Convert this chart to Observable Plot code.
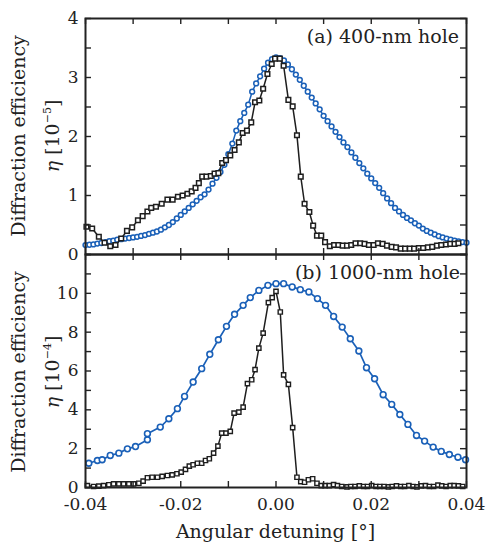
<!DOCTYPE html>
<html><head><meta charset="utf-8">
<script src="https://cdn.jsdelivr.net/npm/d3@7"></script>
<script src="https://cdn.jsdelivr.net/npm/@observablehq/plot@0.6"></script>
<style>
body{margin:0;background:#fff;}
#chart{position:relative;width:487px;height:547px;}
#chart svg{position:absolute;left:0;}
</style></head><body><div id="chart"></div>
<script>
// ---------- data ----------
// (a) 400-nm hole, blue circles: sampled every 1/1200 deg from -0.04
const topBlueStart = -0.04;
const topBlueStep = 1 / 1200;
const topBlueY = [0.16,0.165,0.17,0.185,0.195,0.21,0.225,0.235,0.25,0.26,0.27,0.28,0.29,0.30,0.315,0.33,0.35,0.37,0.39,0.42,
  0.46,0.50,0.55,0.61,0.67,0.73,0.79,0.85,0.91,0.97,1.02,1.10,1.20,1.30,1.40,1.52,1.70,1.88,2.10,2.26,
  2.40,2.54,2.76,2.90,3.02,3.15,3.25,3.31,3.34,3.33,3.29,3.22,3.14,3.05,2.96,2.86,2.76,2.66,2.56,2.46,
  2.35,2.26,2.17,2.08,1.99,1.90,1.82,1.73,1.64,1.55,1.46,1.37,1.29,1.21,1.13,1.04,0.95,0.87,0.79,0.73,
  0.67,0.62,0.58,0.53,0.49,0.44,0.40,0.37,0.34,0.31,0.29,0.27,0.25,0.235,0.22,0.21,0.20];
// (a) 400-nm hole, black squares
const topBlackX = [-0.0398,-0.0386,-0.0372,-0.0360,-0.0348,-0.0337,-0.0325,-0.0313,-0.0302,-0.0290,
  -0.0280,-0.0270,-0.0262,-0.0252,-0.0240,-0.0228,-0.0217,-0.0206,-0.0196,-0.0186,
  -0.0177,-0.0169,-0.0162,-0.0155,-0.0146,-0.0137,-0.0129,-0.0121,-0.0113,-0.0105,
  -0.0096,-0.0087,-0.0078,-0.0070,-0.0061,-0.0052,-0.0044,-0.0035,-0.0027,-0.0018,
  -0.0009,-0.0002,0.0008,0.0016,0.0026,0.0035,0.0044,0.0052,0.0060,0.0070,
  0.0078,0.0086,0.0095,0.0103,0.0113,0.0122,0.0131,0.0140,0.0149,0.0158,
  0.0167,0.0177,0.0186,0.0195,0.0205,0.0214,0.0224,0.0233,0.0243,0.0252,
  0.0262,0.0271,0.0281,0.0290,0.0300,0.0309,0.0319,0.0328,0.0338,0.0347,
  0.0357,0.0366,0.0375,0.0383];
const topBlackY = [0.47,0.44,0.30,0.20,0.14,0.16,0.27,0.40,0.46,0.58,
  0.65,0.73,0.79,0.81,0.86,0.93,0.93,0.98,1.00,1.03,
  1.07,1.13,1.21,1.32,1.32,1.33,1.37,1.38,1.55,1.60,
  1.68,1.77,1.90,2.06,2.10,2.24,2.58,2.61,2.81,3.06,
  3.23,3.32,3.32,3.20,2.62,2.51,2.02,1.32,0.86,0.72,
  0.49,0.32,0.32,0.21,0.14,0.16,0.16,0.15,0.15,0.16,
  0.19,0.19,0.18,0.16,0.16,0.19,0.18,0.15,0.13,0.12,
  0.10,0.10,0.10,0.10,0.11,0.11,0.12,0.13,0.15,0.16,
  0.17,0.18,0.18,0.19];
// (b) 1000-nm hole, blue circles
const botBlueX = [-0.0393,-0.0375,-0.0365,-0.0348,-0.0330,-0.0312,-0.0295,-0.0270,-0.0270,-0.0243,
  -0.0225,-0.0207,-0.0192,-0.0174,-0.0156,-0.0139,-0.0121,-0.0104,-0.0087,-0.0069,
  -0.0054,-0.0036,-0.0017,0.0000,0.0016,0.0034,0.0051,0.0069,0.0087,0.0104,
  0.0121,0.0139,0.0156,0.0174,0.0190,0.0207,0.0225,0.0243,0.0260,0.0277,
  0.0295,0.0312,0.0330,0.0347,0.0364,0.0382,0.0398];
const botBlueY = [1.25,1.39,1.43,1.65,1.77,1.99,2.11,2.46,2.77,3.11,
  3.54,4.06,4.69,5.43,6.12,6.86,7.61,8.30,8.92,9.38,
  9.78,10.15,10.41,10.50,10.50,10.33,10.19,10.07,9.73,9.38,
  8.81,8.26,7.66,7.03,6.17,5.60,4.78,4.28,3.76,3.25,
  2.68,2.39,2.08,1.86,1.70,1.56,1.43];
// (b) 1000-nm hole, black squares
const botBlackX = [-0.0396,-0.0383,-0.0372,-0.0362,-0.0351,-0.0341,-0.0330,-0.0320,-0.0309,-0.0299,
  -0.0288,-0.0279,-0.0270,-0.0260,-0.0249,-0.0239,-0.0228,-0.0218,-0.0208,-0.0199,
  -0.0190,-0.0182,-0.0174,-0.0165,-0.0156,-0.0148,-0.0140,-0.0131,-0.0122,-0.0114,
  -0.0105,-0.0096,-0.0088,-0.0078,-0.0069,-0.0060,-0.0051,-0.0044,-0.0036,-0.0027,
  -0.0016,-0.0008,0.0000,0.0009,0.0016,0.0026,0.0035,0.0044,0.0052,0.0060,
  0.0068,0.0077,0.0086,0.0095,0.0103,0.0112,0.0121,0.0129,0.0138,0.0149,
  0.0157,0.0166,0.0175,0.0184,0.0192,0.0201,0.0210,0.0218,0.0227,0.0236,
  0.0244,0.0253,0.0262,0.0270,0.0279,0.0288,0.0296,0.0305,0.0314,0.0322,
  0.0331,0.0340,0.0348,0.0357,0.0366,0.0374,0.0383,0.0392];
const botBlackY = [0.10,0.05,0.07,0.10,0.14,0.19,0.19,0.19,0.19,0.19,
  0.22,0.33,0.50,0.53,0.53,0.57,0.62,0.65,0.71,0.79,
  0.93,1.10,1.17,1.25,1.25,1.39,1.48,1.77,2.13,2.80,
  2.80,2.89,3.83,3.88,4.14,5.35,5.55,6.07,7.18,7.95,
  9.52,9.78,10.10,9.04,5.80,5.31,3.08,0.53,0.30,0.27,
  0.40,0.45,0.22,0.10,0.10,0.10,0.15,0.10,0.05,0.03,
  0.05,0.05,0.08,0.05,0.05,0.10,0.05,0.05,0.05,0.03,
  0.05,0.08,0.05,0.05,0.10,0.05,0.03,0.08,0.10,0.05,
  0.05,0.12,0.08,0.05,0.10,0.10,0.08,0.05];

// ticks
const xTickLabels = [-0.04, -0.02, 0, 0.02, 0.04];
const xTicksAll = [-0.04, -0.03, -0.02, -0.01, 0, 0.01, 0.02, 0.03, 0.04];
const topYLabels = [0, 1, 2, 3, 4];
const topYTicksAll = [0, 0.5, 1, 1.5, 2, 2.5, 3, 3.5, 4];
const botYLabels = [0, 2, 4, 6, 8, 10];
const botYTicksAll = [0, 1, 2, 3, 4, 5, 6, 7, 8, 9, 10, 11, 12];

const labelA = "(a) 400-nm hole";
const labelB = "(b) 1000-nm hole";
const yTitle = "Diffraction efficiency";
const xTitle = "Angular detuning [°]";

// ---------- styling ----------
const BLUE = "#1a60b8", BLACK = "#1e1e1e", AX = "#222";
const FONT = "DejaVu Serif";
const W = 487, mL = 85, mR = 21;
const xDomain = [-0.04, 0.04];
const TL = 6; // tick length px
const dxTick = TL * (xDomain[1] - xDomain[0]) / (W - mL - mR);

const topRows = topBlueY.map((y, i) => ({x: topBlueStart + i * topBlueStep, y}));
const topBlack = topBlackX.map((x, i) => ({x, y: topBlackY[i]}));
const botBlue = botBlueX.map((x, i) => ({x, y: botBlueY[i]}));
const botBlack = botBlackX.map((x, i) => ({x, y: botBlackY[i]}));

function tickMarks(yDomain, innerH, yAll) {
  const dy = TL * (yDomain[1] - yDomain[0]) / innerH;
  return [
    Plot.ruleX(xTicksAll, {x: d => d, y1: yDomain[0], y2: yDomain[0] + dy, stroke: AX, strokeWidth: 1.4}),
    Plot.ruleX(xTicksAll, {x: d => d, y1: yDomain[1], y2: yDomain[1] - dy, stroke: AX, strokeWidth: 1.4}),
    Plot.ruleY(yAll, {y: d => d, x1: xDomain[0], x2: xDomain[0] + dxTick, stroke: AX, strokeWidth: 1.4}),
    Plot.ruleY(yAll, {y: d => d, x1: xDomain[1], x2: xDomain[1] - dxTick, stroke: AX, strokeWidth: 1.4})
  ];
}

const baseStyle = {fontFamily: FONT, fontSize: "17px", color: AX, background: "transparent", overflow: "visible"};

// ---------- top panel ----------
const topH = 254, topMT = 18, topMB = 0;
const topPlot = Plot.plot({
  width: W, height: topH, marginLeft: mL, marginRight: mR, marginTop: topMT, marginBottom: topMB,
  style: baseStyle,
  x: {domain: xDomain, axis: null},
  y: {domain: [0, 4]},
  marks: [
    Plot.axisY({ticks: topYLabels, tickSize: 0, tickPadding: 7, tickFormat: d => String(d), fontSize: 17, label: null}),
    Plot.line(topRows, {x: "x", y: "y", stroke: BLUE, strokeWidth: 1.5}),
    Plot.dot(topRows, {x: "x", y: "y", r: 2.4, stroke: BLUE, fill: "white", strokeWidth: 1.5}),
    Plot.line(topBlack, {x: "x", y: "y", stroke: BLACK, strokeWidth: 1.5}),
    Plot.dot(topBlack, {x: "x", y: "y", symbol: "square", r: 2.6, stroke: BLACK, fill: "white", strokeWidth: 1.5}),
    ...tickMarks([0, 4], topH - topMT - topMB, topYTicksAll),
    Plot.frame({stroke: AX, strokeWidth: 2})
  ]
});

// ---------- bottom panel ----------
const botTop = 254, botH = 547 - 254, botMT = 0, botMB = 60;
const botPlot = Plot.plot({
  width: W, height: botH, marginLeft: mL, marginRight: mR, marginTop: botMT, marginBottom: botMB,
  style: baseStyle,
  x: {domain: xDomain},
  y: {domain: [0, 12]},
  marks: [
    Plot.axisY({ticks: botYLabels, tickSize: 0, tickPadding: 7, tickFormat: d => String(d), fontSize: 17, label: null}),
    Plot.axisX({ticks: xTickLabels, tickSize: 0, tickPadding: 10, tickFormat: d => d.toFixed(2), fontSize: 17, label: null}),
    Plot.line(botBlue, {x: "x", y: "y", stroke: BLUE, strokeWidth: 1.7}),
    Plot.dot(botBlue, {x: "x", y: "y", r: 2.9, stroke: BLUE, fill: "white", strokeWidth: 1.6}),
    Plot.line(botBlack, {x: "x", y: "y", stroke: BLACK, strokeWidth: 1.5}),
    Plot.dot(botBlack, {x: "x", y: "y", symbol: "square", r: 2.4, stroke: BLACK, fill: "white", strokeWidth: 1.4}),
    ...tickMarks([0, 12], botH - botMT - botMB, botYTicksAll),
    Plot.frame({stroke: AX, strokeWidth: 2})
  ]
});

const chart = document.getElementById("chart");
topPlot.style.top = "0px";
botPlot.style.top = botTop + "px";
chart.appendChild(topPlot);
chart.appendChild(botPlot);

// ---------- titles ----------
function yTitles(svg, cy, exp) {
  const s = d3.select(svg);
  s.append("text").attr("transform", `translate(25,${cy}) rotate(-90)`)
    .attr("text-anchor", "middle").attr("font-family", FONT).attr("font-size", 19).attr("fill", AX)
    .text(yTitle);
  const t = s.append("text").attr("transform", `translate(59,${cy}) rotate(-90)`)
    .attr("text-anchor", "middle").attr("font-family", FONT).attr("font-size", 19).attr("fill", AX);
  t.append("tspan").attr("font-style", "italic").text("η");
  t.append("tspan").text(" [10");
  t.append("tspan").attr("font-size", 11).attr("dy", -8).text(exp);
  t.append("tspan").attr("dy", 8).text("]");
}
function panelLabel(svg, x, y, txt) {
  d3.select(svg).append("text").attr("x", x).attr("y", y).attr("text-anchor", "end")
    .attr("font-family", FONT).attr("font-size", 19).attr("fill", AX).text(txt);
}
yTitles(topPlot, 136, "−5");
yTitles(botPlot, 372 - botTop, "−4");
panelLabel(topPlot, 459, 43, labelA);
panelLabel(botPlot, 460, 279 - botTop, labelB);
d3.select(botPlot).append("text").attr("x", (mL + W - mR) / 2).attr("y", 538 - botTop)
  .attr("text-anchor", "middle").attr("font-family", FONT).attr("font-size", 19).attr("fill", AX)
  .text(xTitle);
</script></body></html>
